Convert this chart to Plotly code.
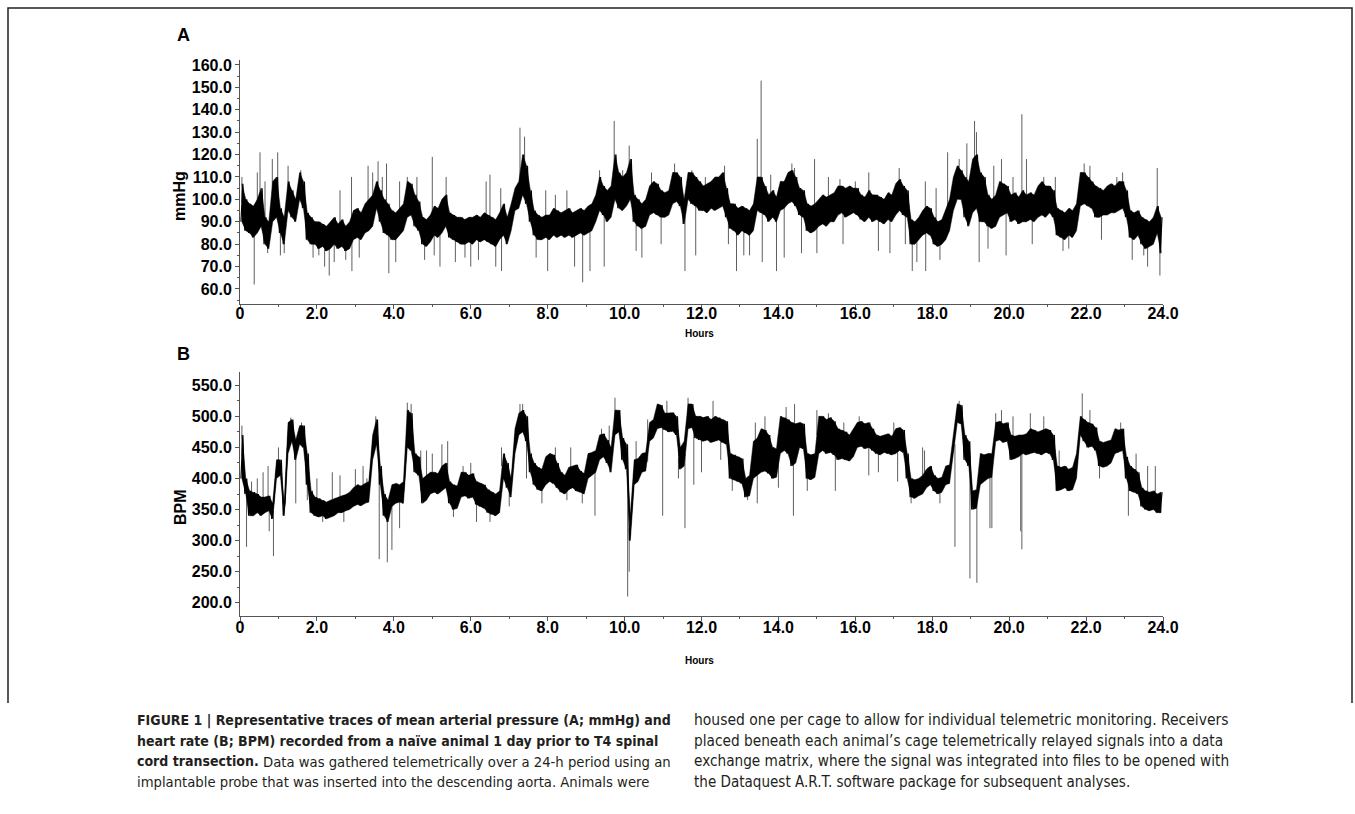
import plotly.graph_objects as go

W, H = 1355, 814
BIN = 0.1  # hours per bin (min/max decimated trace)

# ---------------- Panel A: mean arterial pressure (mmHg), per-0.1 h min / max ----------------
A_lo = [
    90, 86, 85, 83, 85, 88, 80, 78, 90, 92,
    85, 80, 95, 92, 90, 100, 96, 82, 80, 80,
    78, 79, 77, 78, 80, 78, 79, 77, 78, 82,
    83, 82, 85, 86, 88, 96, 90, 85, 84, 82,
    82, 84, 86, 92, 93, 88, 86, 80, 79, 81,
    84, 83, 85, 88, 83, 82, 81, 80, 80, 81,
    80, 82, 81, 82, 81, 80, 79, 82, 84, 80,
    86, 95, 96, 102, 98, 90, 84, 82, 82, 83,
    82, 84, 83, 84, 83, 84, 83, 84, 85, 84,
    85, 86, 90, 95, 93, 90, 92, 100, 96, 95,
    97, 100, 90, 88, 87, 88, 93, 94, 93, 92,
    92, 93, 98, 99, 97, 89, 100, 98, 97, 95,
    95, 94, 96, 95, 96, 97, 92, 87, 86, 84,
    86, 85, 84, 86, 95, 94, 93, 90, 92, 90,
    95, 96, 98, 99, 97, 93, 92, 86, 85, 86,
    88, 89, 88, 90, 90, 93, 94, 92, 93, 94,
    93, 91, 90, 92, 90, 91, 90, 89, 91, 90,
    93, 95, 93, 92, 80, 80, 82, 84, 85, 84,
    80, 79, 80, 82, 86, 95, 100, 100, 92, 88,
    94, 96, 90, 90, 88, 87, 88, 92, 93, 94,
    90, 91, 89, 90, 90, 91, 90, 92, 93, 92,
    94, 92, 84, 83, 82, 84, 83, 86, 97, 98,
    97, 96, 92, 92, 93, 93, 94, 94, 95, 96,
    92, 83, 82, 84, 80, 78, 79, 80, 85, 76,
]
A_hi = [
    107, 100, 98, 97, 100, 105, 92, 90, 108, 110,
    96, 92, 108, 104, 100, 112, 108, 94, 92, 90,
    90, 89, 88, 90, 92, 89, 91, 88, 90, 95,
    96, 94, 98, 100, 102, 108, 104, 100, 98, 95,
    94, 96, 98, 108, 107, 102, 99, 92, 91, 93,
    97, 96, 100, 102, 94, 93, 92, 92, 91, 92,
    92, 93, 92, 94, 93, 92, 91, 94, 98, 92,
    98, 105, 108, 120, 115, 104, 95, 93, 92, 93,
    93, 96, 95, 94, 95, 96, 94, 95, 96, 95,
    97, 98, 102, 110, 106, 104, 106, 120, 112, 110,
    112, 118, 102, 100, 98, 100, 106, 108, 107, 104,
    103, 104, 112, 112, 110, 100, 112, 112, 110, 108,
    106, 107, 108, 110, 110, 112, 105, 98, 98, 96,
    97, 96, 95, 98, 110, 110, 106, 102, 104, 101,
    108, 108, 112, 113, 110, 105, 104, 98, 97, 98,
    100, 102, 101, 102, 103, 106, 106, 105, 106, 105,
    105, 102, 101, 104, 102, 102, 101, 100, 103, 102,
    107, 109, 106, 104, 91, 90, 92, 95, 97, 96,
    92, 90, 91, 95, 100, 110, 115, 113, 110, 108,
    118, 120, 112, 110, 102, 100, 102, 108, 107, 106,
    102, 103, 101, 104, 102, 103, 102, 106, 108, 106,
    106, 104, 96, 95, 94, 96, 95, 98, 112, 112,
    110, 108, 106, 105, 104, 106, 107, 106, 108, 108,
    104, 95, 94, 95, 92, 91, 90, 92, 97, 92,
]
# isolated excursions (hour, mmHg)
A_spike_t = [0.05, 0.37, 0.45, 0.52, 0.65, 0.72, 0.84, 0.98, 1.05, 1.15, 1.25, 1.58, 1.9, 2.05,
             2.2, 2.32, 2.45, 2.6, 2.75, 2.9, 2.91, 3.1, 3.33, 3.45, 3.59, 3.7, 3.81, 3.87, 4.05,
             4.15, 4.35, 4.5, 4.6, 4.8, 5.0, 5.05, 5.2, 5.36, 5.6, 5.85, 6.0, 6.2, 6.4, 6.5, 6.65,
             6.78, 6.8, 7.28, 7.4, 7.7, 7.95, 8.0, 8.2, 8.5, 8.7, 8.91, 9.1, 9.35, 9.47, 9.73,
             9.95, 10.12, 10.3, 10.45, 10.7, 10.95, 11.3, 11.57, 11.75, 11.85, 12.1, 12.3, 12.6,
             12.7, 12.91, 13.1, 13.25, 13.45, 13.55, 13.58, 13.8, 13.95, 14.15, 14.35, 14.42,
             14.6, 14.94, 15.0, 15.3, 15.6, 15.68, 16.0, 16.35, 16.6, 16.9, 17.14, 17.3, 17.48,
             17.6, 17.82, 17.83, 18.1, 18.2, 18.4, 18.7, 18.9, 19.1, 19.15, 19.22, 19.45, 19.6,
             19.8, 19.92, 20.1, 20.33, 20.45, 20.6, 20.9, 21.2, 21.4, 21.55, 21.95, 22.1, 22.4,
             22.8, 22.95, 23.2, 23.5, 23.6, 23.85, 23.92]
A_spike_v = [110, 62, 112, 121, 108, 76, 118, 121, 75, 76, 115, 113, 74, 75,
             70, 66, 72, 104, 73, 110, 68, 74, 115, 112, 117, 110, 116, 67, 72,
             108, 110, 105, 110, 73, 119, 75, 70, 110, 72, 74, 70, 73, 108, 111, 70,
             105, 68, 132, 128, 74, 104, 68, 102, 104, 70, 63, 68, 113, 70, 135,
             113, 124, 77, 74, 112, 80, 116, 68, 113, 75, 110, 108, 115,
             80, 68, 75, 75, 127, 153, 72, 111, 68, 74, 116, 114,
             76, 118, 76, 110, 109, 80, 108, 112, 77, 76, 114, 80, 68,
             72, 108, 68, 105, 73, 121, 118, 125, 135, 130, 72, 78, 115,
             118, 75, 110, 138, 118, 80, 110, 110, 77, 78, 116, 115, 82,
             110, 112, 73, 75, 70, 114, 66]

# ---------------- Panel B: heart rate (BPM), per-0.1 h min / max ----------------
B_lo = [
    400, 375, 340, 340, 345, 340, 345, 348, 335, 400,
    405, 340, 440, 460, 430, 455, 450, 390, 345, 340,
    338, 340, 335, 338, 340, 345, 345, 348, 350, 355,
    358, 356, 360, 362, 430, 455, 390, 340, 330, 355,
    360, 362, 360, 450, 445, 410, 405, 360, 365, 375,
    378, 375, 380, 385, 360, 350, 352, 370, 372, 368,
    370, 358, 355, 352, 345, 342, 340, 345, 400, 385,
    370, 440, 470, 475, 460, 410, 390, 382, 380, 390,
    395, 392, 385, 378, 375, 382, 385, 380, 378, 375,
    400, 405, 410, 430, 435, 425, 410, 470, 475, 430,
    415, 300, 390, 395, 410, 412, 460, 465, 480, 482,
    478, 475, 476, 470, 415, 420, 480, 482, 465, 462,
    460, 462, 458, 460, 462, 458, 455, 400, 398, 395,
    392, 370, 372, 400, 405, 410, 412, 408, 400, 402,
    440, 445, 440, 420, 425, 450, 448, 400, 398, 402,
    440, 445, 440, 442, 438, 430, 432, 430, 428, 435,
    450, 452, 448, 450, 445, 440, 438, 442, 440, 438,
    440, 445, 442, 400, 370, 368, 372, 375, 385, 390,
    380, 375, 378, 390, 392, 440, 490, 488, 430, 420,
    350, 352, 390, 395, 400, 402, 460, 462, 458, 460,
    430, 432, 435, 440, 438, 440, 442, 440, 438, 442,
    440, 430, 380, 382, 385, 380, 382, 400, 470, 460,
    450, 452, 445, 420, 418, 420, 425, 440, 442, 445,
    400, 380, 378, 375, 355, 350, 348, 350, 345, 345,
]
B_hi = [
    470, 400, 380, 378, 375, 370, 370, 372, 360, 430,
    430, 362, 490, 495, 462, 485, 485, 440, 380, 370,
    368, 365, 362, 365, 368, 370, 372, 374, 378, 385,
    390, 388, 392, 395, 470, 495, 420, 375, 365, 390,
    392, 390, 395, 510, 505, 440, 435, 400, 405, 410,
    410, 408, 420, 425, 395, 390, 388, 410, 410, 405,
    408, 395, 392, 390, 382, 378, 375, 380, 440, 425,
    400, 480, 505, 510, 500, 440, 425, 418, 415, 435,
    440, 438, 425, 410, 405, 418, 420, 422, 412, 408,
    440, 442, 445, 470, 472, 462, 450, 510, 510, 465,
    455, 340, 430, 432, 440, 442, 490, 495, 520, 518,
    505, 505, 506, 500, 450, 460, 520, 520, 500, 500,
    498, 500, 495, 500, 498, 495, 492, 440, 438, 435,
    432, 400, 405, 460, 465, 480, 478, 470, 450, 448,
    500, 498, 495, 490, 488, 490, 488, 440, 438, 440,
    500, 500, 495, 498, 492, 480, 478, 475, 470, 480,
    490, 492, 488, 490, 480, 470, 468, 470, 472, 468,
    480, 482, 478, 440, 400, 398, 400, 405, 415, 420,
    405, 400, 402, 420, 422, 470, 520, 518, 470, 460,
    380, 382, 440, 438, 440, 440, 490, 492, 488, 490,
    470, 468, 470, 470, 472, 480, 478, 475, 478, 480,
    478, 470, 420, 418, 420, 415, 418, 440, 500, 495,
    490, 488, 482, 460, 458, 460, 462, 480, 478, 480,
    435, 420, 415, 410, 385, 380, 378, 380, 375, 378,
]
B_spike_t = [0.05, 0.17, 0.3, 0.45, 0.6, 0.73, 0.76, 0.87, 1.0, 1.32, 1.45, 1.6, 1.75, 2.0, 2.15,
             2.4, 2.6, 2.7, 3.0, 3.2, 3.3, 3.53, 3.62, 3.83, 3.95, 4.15, 4.35, 4.45, 4.7, 4.85,
             5.0, 5.25, 5.4, 5.55, 5.8, 6.0, 6.15, 6.5, 6.8, 7.0, 7.28, 7.35, 7.45, 7.85, 8.2,
             8.5, 8.6, 8.9, 9.23, 9.4, 9.6, 9.75, 10.08, 10.12, 10.3, 10.6, 10.99, 11.1, 11.4,
             11.57, 11.65, 11.8, 12.0, 12.3, 12.5, 12.8, 13.2, 13.45, 13.4, 13.65, 14.0, 14.2,
             14.39, 14.42, 14.75, 15.0, 15.3, 15.48, 15.7, 16.1, 16.35, 16.6, 17.0, 17.1, 17.45,
             17.8, 17.75, 18.2, 18.59, 18.7, 18.98, 19.16, 19.5, 19.55, 19.65, 19.8, 20.1, 20.33,
             20.3, 20.55, 20.9, 21.3, 21.5, 21.9, 22.1, 22.35, 22.9, 23.1, 23.3, 23.6, 23.8]
B_spike_v = [485, 290, 395, 400, 410, 420, 315, 275, 450, 498, 360, 490, 365, 400, 330,
             410, 405, 330, 415, 420, 400, 500, 270, 265, 285, 320, 522, 520, 445, 445,
             440, 455, 460, 338, 420, 425, 330, 330, 450, 355, 520, 520, 400, 360, 450,
             365, 450, 360, 340, 480, 485, 530, 210, 250, 460, 495, 340, 525, 400,
             320, 530, 390, 410, 525, 430, 380, 365, 360, 490, 500, 385, 515,
             340, 520, 380, 510, 505, 380, 490, 500, 405, 410, 490, 395, 360,
             445, 450, 360, 290, 525, 239, 232, 320, 320, 505, 510, 500, 286,
             315, 505, 500, 445, 380, 537, 510, 400, 490, 340, 440, 420, 420]

X_TICKS = [0, 2, 4, 6, 8, 10, 12, 14, 16, 18, 20, 22, 24]
X_TICKTEXT = ["0", "2.0", "4.0", "6.0", "8.0", "10.0", "12.0", "14.0", "16.0", "18.0",
              "20.0", "22.0", "24.0"]
A_YTICKS = [60, 70, 80, 90, 100, 110, 120, 130, 140, 150, 160]
B_YTICKS = [200, 250, 300, 350, 400, 450, 500, 550]


def zigzag(lo, hi):
    xs, ys = [], []
    for i, (a, b) in enumerate(zip(lo, hi)):
        t = i * BIN
        xs += [t + 0.25 * BIN, t + 0.75 * BIN]
        ys += [a, b]
    return xs, ys


def band(lo, hi):
    centers = [(i + 0.5) * BIN for i in range(len(lo))]
    return centers + centers[::-1], list(lo) + list(hi)[::-1]


def spikes(ts, vs, lo, hi):
    xs, ys = [], []
    for t, v in zip(ts, vs):
        k = min(int(t / BIN), len(lo) - 1)
        base = (lo[k] + hi[k]) / 2
        xs += [t, t, None]
        ys += [base, v, None]
    return xs, ys


fig = go.Figure()
for lo, hi, st, sv, xa, ya in [(A_lo, A_hi, A_spike_t, A_spike_v, "x", "y"),
                               (B_lo, B_hi, B_spike_t, B_spike_v, "x2", "y2")]:
    sx, sy = spikes(st, sv, lo, hi)
    fig.add_trace(go.Scatter(x=sx, y=sy, mode="lines", xaxis=xa, yaxis=ya,
                             line=dict(color="#5e5e5e", width=1), hoverinfo="skip",
                             showlegend=False))
    bx, by = band(lo, hi)
    fig.add_trace(go.Scatter(x=bx, y=by, mode="lines", xaxis=xa, yaxis=ya, fill="toself",
                             fillcolor="#000000", line=dict(color="#000000", width=0.5),
                             hoverinfo="skip", showlegend=False))
    zx, zy = zigzag(lo, hi)
    fig.add_trace(go.Scatter(x=zx, y=zy, mode="lines", xaxis=xa, yaxis=ya,
                             line=dict(color="#000000", width=1.2), showlegend=False))


def px(x):
    return x / W


def py(y):
    return 1 - y / H


tickfont = dict(family="Liberation Sans, Arial, sans-serif", size=16, color="#000",
                weight="bold")
axis_common = dict(showgrid=False, zeroline=False, showline=True, linecolor="#555",
                   linewidth=1, ticks="outside", ticklen=4, tickcolor="#555",
                   tickfont=tickfont, fixedrange=True, automargin=False)
xdom = [px(240), px(1163)]
fig.update_layout(
    width=W, height=H, autosize=False,
    margin=dict(l=0, r=0, t=0, b=0, pad=0, autoexpand=False),
    paper_bgcolor="white", plot_bgcolor="white",
    xaxis=dict(domain=xdom, range=[0, 24], anchor="y", tickvals=X_TICKS,
               ticktext=X_TICKTEXT, ticklabelstandoff=-9,
               minor=dict(ticks="outside", ticklen=2, dtick=1, tickcolor="#555"),
               **axis_common),
    yaxis=dict(domain=[py(304), py(60)], range=[53.3, 162.2], anchor="x",
               tickvals=A_YTICKS, tickformat=".1f",
               minor=dict(ticks="outside", ticklen=2, dtick=5, tickcolor="#555"),
               **axis_common),
    xaxis2=dict(domain=xdom, range=[0, 24], anchor="y2", tickvals=X_TICKS,
                ticktext=X_TICKTEXT, ticklabelstandoff=-7,
                minor=dict(ticks="outside", ticklen=2, dtick=1, tickcolor="#555"),
                **axis_common),
    yaxis2=dict(domain=[py(616), py(372)], range=[178.6, 571.4], anchor="x2",
                tickvals=B_YTICKS, tickformat=".1f",
                minor=dict(ticks="outside", ticklen=2, dtick=25, tickcolor="#555"),
                **axis_common),
)

lab = dict(family="Liberation Sans, Arial, sans-serif", color="#000", weight="bold")
ann = [
    dict(text="A", x=px(183), y=py(35), font=dict(size=18, **lab)),
    dict(text="B", x=px(183), y=py(354), font=dict(size=18, **lab)),
    dict(text="mmHg", x=px(179), y=py(196), textangle=-90, font=dict(size=16, **lab)),
    dict(text="BPM", x=px(180), y=py(507), textangle=-90, font=dict(size=16, **lab)),
    dict(text="Hours", x=px(699), y=py(333), font=dict(size=10, **lab)),
    dict(text="Hours", x=px(699), y=py(660), font=dict(size=10, **lab)),
]
for a in ann:
    a.update(xref="paper", yref="paper", showarrow=False, xanchor="center", yanchor="middle")

cap_family = "Liberation Sans Narrow, DejaVu Sans Condensed, sans-serif"


def reg(size):
    return dict(family=cap_family, size=size, color="#231f20")


cap_bold = dict(family=cap_family, size=14, color="#231f20", weight="bold")

line_y = [720, 740.5, 761, 781.5]
caption = [
    # (text, x-left in px, line index, font)
    ("FIGURE 1 | Representative traces of mean arterial pressure (A; mmHg) and", 135, 0, cap_bold),
    ("heart rate (B; BPM) recorded from a naïve animal 1 day prior to T4 spinal", 135, 1, cap_bold),
    ("cord transection.", 135, 2, cap_bold),
    ("Data was gathered telemetrically over a 24-h period using an", 261, 2, reg(14.7)),
    ("implantable probe that was inserted into the descending aorta. Animals were", 135, 3, reg(14.7)),
    ("housed one per cage to allow for individual telemetric monitoring. Receivers", 692, 0, reg(15.5)),
    ("placed beneath each animal’s cage telemetrically relayed signals into a data", 692, 1, reg(15.25)),
    ("exchange matrix, where the signal was integrated into files to be opened with", 692, 2, reg(15.2)),
    ("the Dataquest A.R.T. software package for subsequent analyses.", 692, 3, reg(15.05)),
]
for txt, xl, li, fnt in caption:
    ann.append(dict(text=txt, x=px(xl), y=py(line_y[li]), xref="paper", yref="paper",
                    showarrow=False, xanchor="left", yanchor="middle", font=fnt))
fig.update_layout(annotations=ann)

# figure frame (open at the bottom, as in the page)
frame = dict(type="path", xref="paper", yref="paper",
             path=f"M {px(8)},{py(703)} L {px(8)},{py(8)} L {px(1352)},{py(8)} L {px(1352)},{py(703)}",
             line=dict(color="#222", width=1.5))
fig.update_layout(shapes=[frame])

fig.write_html(
    "out.html",
    config={"displayModeBar": False},
    post_script=(
        "document.documentElement.style.overflow='hidden';"
        "document.body.style.overflow='hidden';document.body.style.margin='0';"
    ),
)
